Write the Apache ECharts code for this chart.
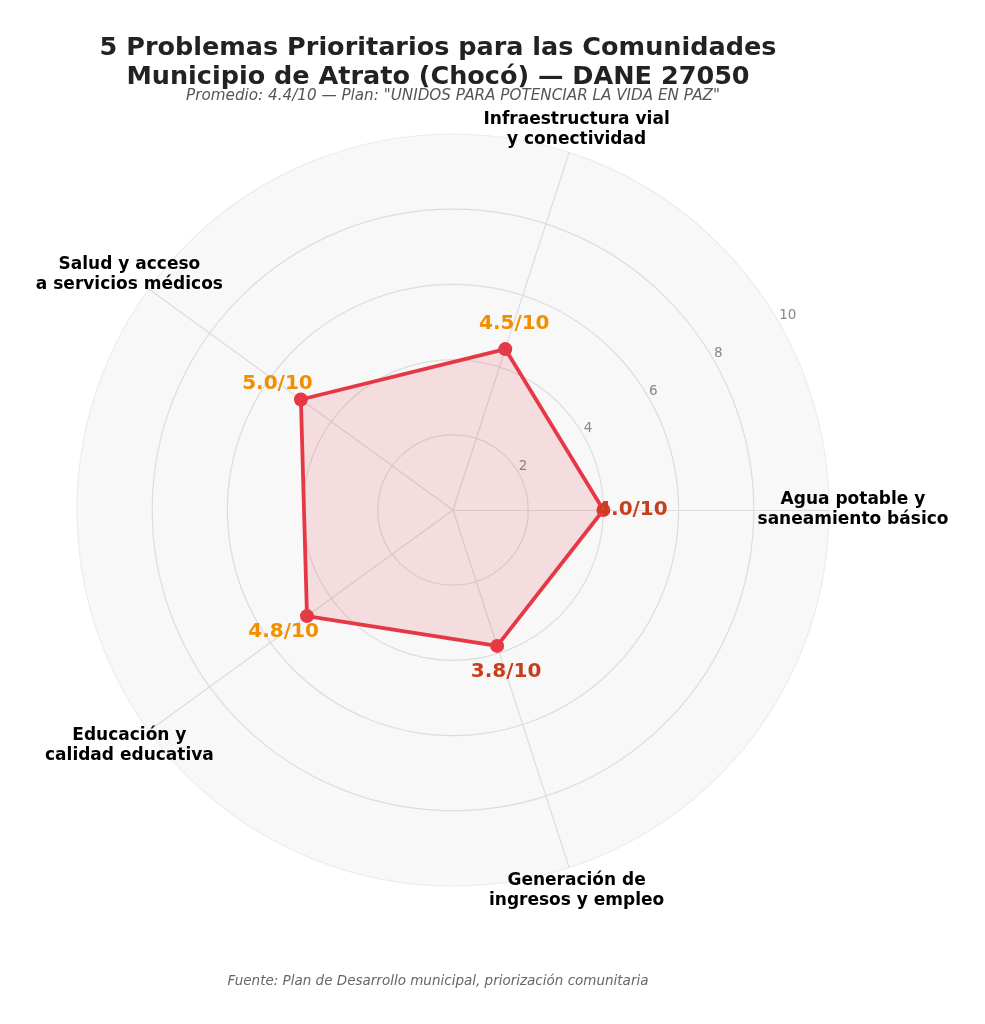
<!DOCTYPE html>
<html>
<head>
<meta charset="utf-8">
<script src="https://cdn.jsdelivr.net/npm/echarts@6/dist/echarts.min.js"></script>
<style>
html, body { margin: 0; padding: 0; background: #ffffff; }
#chart { width: 985px; height: 1024px; }
</style>
</head>
<body>
<div id="chart"></div>
<script>
// problems (radar axes, counter-clockwise from the right)
var problems = [
    'Agua potable y\nsaneamiento básico',
    'Infraestructura vial\ny conectividad',
    'Salud y acceso\na servicios médicos',
    'Educación y\ncalidad educativa',
    'Generación de\ningresos y empleo'
];
var scores = [4.0, 4.5, 5.0, 4.8, 3.8];
var average = 4.4;
var maxScore = 10;

var center = [453, 510];
var radius = 376;

var chart = echarts.init(document.getElementById('chart'));

var option = {
    backgroundColor: '#ffffff',
    textStyle: { fontFamily: 'DejaVu Sans' },
    title: [
        {
            text: '5 Problemas Prioritarios para las Comunidades\nMunicipio de Atrato (Chocó) — DANE 27050',
            left: 433,
            top: 29,
            textAlign: 'center',
            textStyle: { fontSize: 25.5, fontWeight: 'bold', color: '#222222', lineHeight: 29, fontFamily: 'DejaVu Sans' }
        },
        {
            text: 'Promedio: ' + average.toFixed(1) + '/10 — Plan: "UNIDOS PARA POTENCIAR LA VIDA EN PAZ"',
            left: 448,
            top: 84,
            textAlign: 'center',
            textStyle: { fontSize: 15.2, fontStyle: 'italic', fontWeight: 'normal', color: '#555555', fontFamily: 'DejaVu Sans' }
        },
        {
            text: 'Fuente: Plan de Desarrollo municipal, priorización comunitaria',
            left: 433,
            top: 969,
            textAlign: 'center',
            textStyle: { fontSize: 13.5, fontStyle: 'italic', fontWeight: 'normal', color: '#666666', fontFamily: 'DejaVu Sans' }
        }
    ],
    radar: {
        center: center,
        radius: radius,
        startAngle: 0,
        shape: 'circle',
        splitNumber: 5,
        indicator: problems.map(function (p) { return { name: p, min: 0, max: maxScore }; }),
        nameGap: 24,
        axisName: {
            color: '#000000',
            fontSize: 17,
            fontWeight: 'bold',
            lineHeight: 20,
            align: 'center',
            verticalAlign: 'middle',
            fontFamily: 'DejaVu Sans'
        },
        axisLine: { lineStyle: { color: '#dddddd', width: 1.2 } },
        splitLine: { lineStyle: { color: ['#dddddd', '#dddddd', '#dddddd', '#dddddd', '#dddddd', '#ececec'], width: 1.2 } },
        splitArea: { show: true, areaStyle: { color: ['#f8f8f8'] } }
    },
    polar: { center: center, radius: radius },
    angleAxis: {
        type: 'value',
        startAngle: 30,
        min: 0,
        max: 360,
        show: false
    },
    radiusAxis: {
        type: 'value',
        min: 0,
        max: maxScore,
        interval: 2,
        axisLine: { show: false },
        axisTick: { show: false },
        splitLine: { show: false },
        axisLabel: {
            color: '#888888',
            fontSize: 13.5,
            margin: 7,
            align: 'left',
            verticalAlign: 'middle',
            padding: [0, 0, 0, 4],
            formatter: function (v) { return v === 0 ? '' : String(v); }
        }
    },
    series: [
        {
            type: 'radar',
            symbol: 'circle',
            symbolSize: 14,
            z: 3,
            data: [
                {
                    value: scores,
                    name: 'Puntaje',
                    lineStyle: { color: '#e63946', width: 3.8 },
                    itemStyle: { color: '#e63946' },
                    areaStyle: { color: 'rgba(230,57,70,0.2)' },
                    label: {
                        show: true,
                        formatter: function (p) {
                            var v = Number(p.value);
                            return (v >= average ? '{hi|' : '{lo|') + v.toFixed(1) + '/10}';
                        },
                        rich: {
                            hi: { color: '#f18f01', fontSize: 20, fontWeight: 'bold', fontFamily: 'DejaVu Sans' },
                            lo: { color: '#c73e1d', fontSize: 20, fontWeight: 'bold', fontFamily: 'DejaVu Sans' }
                        }
                    }
                }
            ],
            labelLayout: function (params) {
                var r = params.rect;
                var cx = r.x + r.width / 2;
                var cy = r.y + r.height / 2;
                var dx = cx - center[0];
                var dy = cy - center[1];
                var len = Math.sqrt(dx * dx + dy * dy) || 1;
                return {
                    x: cx + dx / len * 29,
                    y: cy + dy / len * 27,
                    align: 'center',
                    verticalAlign: 'middle'
                };
            }
        }
    ]
};

chart.setOption(option);
</script>
</body>
</html>
